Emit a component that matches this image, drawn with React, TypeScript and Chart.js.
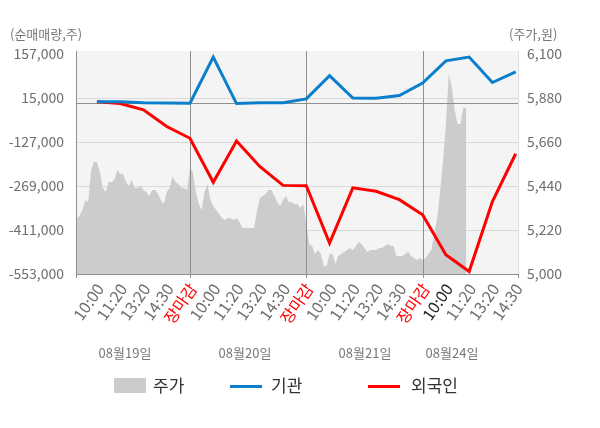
import { useEffect, useRef } from "react";
import { Chart, registerables } from "chart.js";

Chart.register(...registerables);

const FONT = "'Noto Sans CJK KR', 'Noto Sans', sans-serif";

const timeLabels = [
  "10:00", "11:20", "13:20", "14:30", "장마감",
  "10:00", "11:20", "13:20", "14:30", "장마감",
  "10:00", "11:20", "13:20", "14:30", "장마감",
  "10:00", "11:20", "13:20", "14:30",
];
const dayLabels = ["08월19일", "08월20일", "08월21일", "08월24일"];

// 순매매량 (주)
const institution = [
  3000, 3000, 0, -1000, -2000, 147000, -3000, 0, 0, 12000,
  87000, 15000, 14000, 23000, 63000, 135000, 147000, 65000, 99000,
];
const foreign = [
  3000, -3000, -23000, -77000, -115000, -257000, -124000, -206000, -267000, -268000,
  -453000, -275000, -286000, -313000, -362000, -491000, -545000, -319000, -165000,
];

// 주가 (원), 40 samples per trading day
const priceDay1 = [
  5280, 5280, 5290, 5320, 5370, 5360, 5520, 5560, 5560, 5510,
  5430, 5410, 5460, 5460, 5470, 5520, 5500, 5500, 5460, 5440,
  5470, 5430, 5430, 5440, 5420, 5410, 5390, 5420, 5420, 5400,
  5370, 5350, 5410, 5430, 5490, 5460, 5450, 5430, 5430, 5420,
];
const priceDay2 = [
  5530, 5510, 5410, 5350, 5320, 5410, 5450, 5370, 5340, 5320,
  5300, 5280, 5270, 5280, 5280, 5270, 5280, 5260, 5230, 5230,
  5230, 5230, 5230, 5310, 5380, 5390, 5400, 5420, 5420, 5390,
  5360, 5340, 5370, 5390, 5360, 5360, 5350, 5350, 5330, 5350,
];
const priceDay3 = [
  5250, 5150, 5140, 5100, 5120, 5100, 5040, 5040, 5100, 5100,
  5050, 5090, 5100, 5110, 5120, 5130, 5120, 5140, 5160, 5150,
  5130, 5110, 5120, 5120, 5120, 5130, 5130, 5140, 5150, 5140,
  5140, 5090, 5090, 5090, 5100, 5110, 5090, 5080, 5070, 5080,
];
const priceDay4 = [
  5070, 5080, 5100, 5120, 5200, 5280, 5410, 5560, 5750, 6000,
  5940, 5820, 5750, 5750, 5830, 5830,
];

const netTicks = [-553000, -411000, -269000, -127000, 15000, 157000];
const priceTicks = [5000, 5220, 5440, 5660, 5880, 6100];

const SAMPLES_PER_DAY = 40;
const DAY_SPAN = 5;

const fmt = (v: number) => v.toLocaleString("en-US");

const framePlugin = {
  id: "frame",
  beforeDraw(chart: any) {
    const { ctx, chartArea: a } = chart;
    ctx.save();
    ctx.fillStyle = "#f4f4f4";
    ctx.fillRect(a.left, a.top - 3, a.right - a.left, a.bottom - a.top + 3);
    ctx.strokeStyle = "#dedede";
    ctx.beginPath();
    ctx.moveTo(Math.round(a.right) + 0.5, a.top - 3);
    ctx.lineTo(Math.round(a.right) + 0.5, a.bottom);
    ctx.stroke();
    ctx.restore();
  },
  afterDatasetDraw(chart: any, args: any) {
    if (args.index !== 2) return;
    const { ctx, chartArea: a, scales } = chart;
    ctx.save();
    ctx.strokeStyle = "#8f8f8f";
    ctx.lineWidth = 1;
    // day boundaries
    [DAY_SPAN, DAY_SPAN * 2, DAY_SPAN * 3].forEach((v) => {
      const x = Math.round(scales.x.getPixelForValue(v)) + 0.5;
      ctx.beginPath();
      ctx.moveTo(x, a.top - 3);
      ctx.lineTo(x, a.bottom + 4);
      ctx.stroke();
    });
    // left border, right tick
    const xl = Math.round(a.left) + 0.5;
    ctx.beginPath();
    ctx.moveTo(xl, a.top - 3);
    ctx.lineTo(xl, a.bottom + 4);
    ctx.stroke();
    const xr = Math.round(a.right) + 0.5;
    ctx.beginPath();
    ctx.moveTo(xr, a.bottom);
    ctx.lineTo(xr, a.bottom + 4);
    ctx.stroke();
    // zero line
    const y0 = Math.round(scales.y.getPixelForValue(0)) + 0.5;
    ctx.beginPath();
    ctx.moveTo(a.left, y0);
    ctx.lineTo(a.right, y0);
    ctx.stroke();
    // bottom axis
    const yb = Math.round(a.bottom) + 0.5;
    ctx.beginPath();
    ctx.moveTo(a.left, yb);
    ctx.lineTo(a.right, yb);
    ctx.stroke();
    ctx.restore();
  },
  afterDraw(chart: any) {
    const { ctx } = chart;
    ctx.save();
    ctx.textBaseline = "middle";
    ctx.font = `13px ${FONT}`;
    ctx.fillStyle = "#777";
    ctx.textAlign = "left";
    ctx.fillText("(순매매량,주)", 10, 34);
    ctx.fillText("(주가,원)", 509, 34);

    // dates under the time labels
    ctx.textAlign = "center";
    const dateX = [125, 245, 365, 452];
    dayLabels.forEach((d, i) => ctx.fillText(d, dateX[i], 353));

    // legend
    ctx.font = `17px ${FONT}`;
    ctx.textAlign = "left";
    ctx.fillStyle = "#cccccc";
    ctx.fillRect(114, 378, 32, 15);
    ctx.fillStyle = "#333";
    ctx.fillText("주가", 153, 386);
    ctx.fillStyle = "#0a80cc";
    ctx.fillRect(230, 385, 32, 3);
    ctx.fillStyle = "#333";
    ctx.fillText("기관", 271, 386);
    ctx.fillStyle = "#ff0000";
    ctx.fillRect(368, 385, 32, 3);
    ctx.fillStyle = "#333";
    ctx.fillText("외국인", 411, 386);
    ctx.restore();
  },
};

export default function App() {
  const canvasRef = useRef<HTMLCanvasElement>(null);
  const chartRef = useRef<Chart | null>(null);

  useEffect(() => {
    document.body.style.margin = "0";
    if (!canvasRef.current) return;
    if (chartRef.current) chartRef.current.destroy();
    const ctx = canvasRef.current.getContext("2d");
    if (!ctx) return;

    const step = DAY_SPAN / SAMPLES_PER_DAY;
    const pricePoints = [priceDay1, priceDay2, priceDay3, priceDay4].flatMap((day, d) =>
      day.map((p, j) => ({ x: d * DAY_SPAN + j * step, y: p }))
    );

    chartRef.current = new Chart(ctx, {
      type: "line",
      data: {
        datasets: [
          {
            label: "기관",
            data: institution.map((v, i) => ({ x: i + 1, y: v })),
            borderColor: "#0a80cc",
            borderWidth: 3,
            pointRadius: 0,
            fill: false,
            yAxisID: "y",
            order: 0,
          },
          {
            label: "외국인",
            data: foreign.map((v, i) => ({ x: i + 1, y: v })),
            borderColor: "#ff0000",
            borderWidth: 3,
            pointRadius: 0,
            fill: false,
            yAxisID: "y",
            order: 1,
          },
          {
            label: "주가",
            data: pricePoints,
            borderWidth: 0,
            borderColor: "rgba(0,0,0,0)",
            backgroundColor: "#cccccc",
            pointRadius: 0,
            fill: "start",
            yAxisID: "y1",
            order: 2,
          },
        ],
      },
      options: {
        responsive: true,
        maintainAspectRatio: false,
        animation: false,
        events: [],
        layout: { padding: { top: 54, left: 0, right: 0, bottom: 0 } },
        plugins: {
          legend: { display: false },
          tooltip: { enabled: false },
        },
        scales: {
          x: {
            type: "linear",
            min: 0.1,
            max: 19.1,
            afterBuildTicks: (axis: any) => {
              axis.ticks = timeLabels.map((_, i) => ({ value: i + 1 }));
            },
            afterFit: (axis: any) => {
              axis.height = 154;
            },
            grid: { display: false, drawTicks: false },
            border: { display: false },
            ticks: {
              autoSkip: false,
              maxRotation: 55,
              minRotation: 55,
              padding: 6,
              labelOffset: 3,
              font: { family: FONT, size: 16 },
              color: (c: any) => {
                const label = timeLabels[c.index];
                if (label === "장마감") return "#ff0000";
                if (c.index === 15) return "#222";
                return "#6e6e6e";
              },
              callback: (v: any) => timeLabels[Math.round(Number(v)) - 1],
            },
          },
          y: {
            position: "left",
            min: netTicks[0],
            max: netTicks[netTicks.length - 1],
            afterBuildTicks: (axis: any) => {
              axis.ticks = netTicks.map((v) => ({ value: v }));
            },
            afterFit: (axis: any) => {
              axis.width = 76;
            },
            grid: {
              drawTicks: false,
              color: (c: any) =>
                c.tick && (c.tick.value === netTicks[0] || c.tick.value === netTicks[netTicks.length - 1])
                  ? "rgba(0,0,0,0)"
                  : "#dadada",
            },
            border: { display: false },
            ticks: {
              padding: 12,
              color: "#6e6e6e",
              font: { family: FONT, size: 14 },
              callback: (v: any) => fmt(Number(v)),
            },
          },
          y1: {
            position: "right",
            min: priceTicks[0],
            max: priceTicks[priceTicks.length - 1],
            afterBuildTicks: (axis: any) => {
              axis.ticks = priceTicks.map((v) => ({ value: v }));
            },
            afterFit: (axis: any) => {
              axis.width = 82;
            },
            grid: { display: false, drawTicks: false },
            border: { display: false },
            ticks: {
              padding: 9,
              color: "#6e6e6e",
              font: { family: FONT, size: 14 },
              callback: (v: any) => fmt(Number(v)),
            },
          },
        },
      },
      plugins: [framePlugin],
    });

    return () => {
      if (chartRef.current) {
        chartRef.current.destroy();
        chartRef.current = null;
      }
    };
  }, []);

  return (
    <div style={{ position: "relative", width: "600px", height: "428px" }}>
      <canvas ref={canvasRef} />
    </div>
  );
}
